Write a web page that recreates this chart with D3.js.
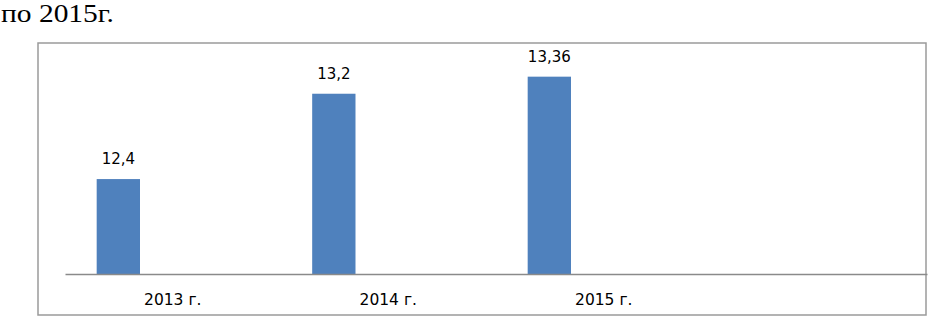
<!DOCTYPE html>
<html>
<head>
<meta charset="utf-8">
<script src="https://cdn.jsdelivr.net/npm/d3@7"></script>
<style>
	html, body { margin: 0; padding: 0; background: #fff; }
	svg { display: block; }
</style>
</head>
<body>
<svg id="chart" width="928" height="319"></svg>
<script>
// data
const categories = ['2013 г.', '2014 г.', '2015 г.', ''];
const values = [12.4, 13.2, 13.36, null];
const valueLabels = ['12,4', '13,2', '13,36', ''];
const title = 'по 2015г.';

const svg = d3.select('#chart');

// heading text above the chart (part of the document)
svg.append('text')
	.attr('x', 1)
	.attr('y', 22)
	.attr('textLength', 113)
	.attr('lengthAdjust', 'spacingAndGlyphs')
	.style('font-family', '"Liberation Serif", "Times New Roman", serif')
	.style('font-size', '25px')
	.style('fill', '#000')
	.text(title);

// outer chart frame
svg.append('rect')
	.attr('x', 38)
	.attr('y', 43)
	.attr('width', 888)
	.attr('height', 272)
	.attr('fill', 'none')
	.attr('stroke', '#9a9a9a')
	.attr('stroke-width', 1.5);

const plot = { x1: 65, x2: 927, y1: 50, y2: 274 };

const x = d3.scaleBand()
	.domain(d3.range(categories.length))
	.range([plot.x1, plot.x2])
	.padding(0);

// value axis is hidden, its minimum is not zero
const y = d3.scaleLinear()
	.domain([11.51, 13.61])
	.range([plot.y2, plot.y1]);

const bw = x.bandwidth();
const barOff = bw * 0.147,
			barW = bw * 0.201;

const data = categories.map((c, i) => ({ i: i, cat: c, v: values[i], lbl: valueLabels[i] }));

// bars
svg.selectAll('.bar')
	.data(data.filter(d => d.v != null))
	.enter()
	.append('rect')
	.attr('class', 'bar')
	.attr('x', d => x(d.i) + barOff)
	.attr('y', d => y(d.v))
	.attr('width', barW)
	.attr('height', d => y.range()[0] - y(d.v))
	.attr('fill', '#4f81bd');

// value labels
svg.selectAll('.val')
	.data(data.filter(d => d.v != null))
	.enter()
	.append('text')
	.attr('class', 'val')
	.attr('x', d => x(d.i) + barOff + barW / 2)
	.attr('y', d => y(d.v) - 15)
	.attr('text-anchor', 'middle')
	.style('font-family', '"DejaVu Sans", sans-serif')
	.style('font-size', '15px')
	.style('fill', '#000')
	.text(d => d.lbl);

// category axis (no ticks)
const xAxis = d3.axisBottom(x)
	.tickSize(0)
	.tickPadding(0)
	.tickFormat(i => categories[i]);

const gx = svg.append('g')
	.attr('transform', 'translate(0,' + plot.y2 + ')')
	.call(xAxis);

gx.select('.domain')
	.attr('stroke', '#8a8a8a')
	.attr('stroke-width', 1.5);

gx.selectAll('text')
	.attr('y', 31)
	.attr('dy', null)
	.style('font-family', '"DejaVu Sans", sans-serif')
	.style('font-size', '15.5px')
	.style('fill', '#000');
</script>
</body>
</html>
